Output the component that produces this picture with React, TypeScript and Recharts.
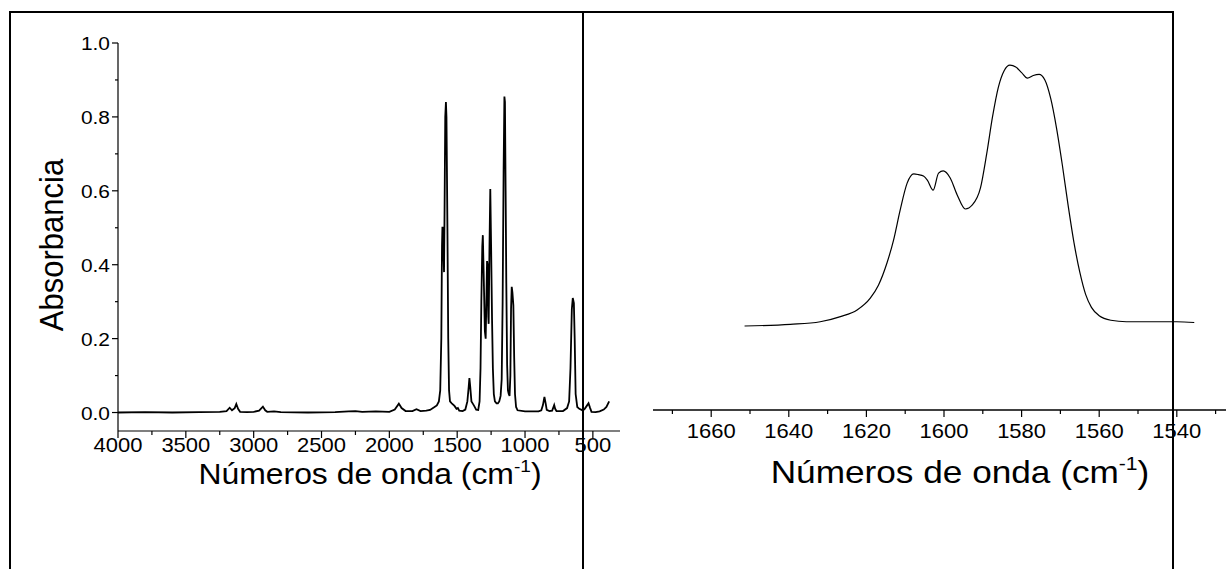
import React from "react";
import { Label, Line, LineChart, XAxis, YAxis } from "recharts";

const FONT = "'Liberation Sans', Arial, Helvetica, sans-serif";
// the original figure's lettering is slightly wider than Arial
const STRETCH = 1.1;

// full spectrum, 4000-370 cm-1
const overviewWavenumbers = [
  4000, 3800, 3600, 3400, 3250, 3200, 3177, 3160, 3140, 3128, 3115, 3100, 3050, 3000, 2960, 2932, 2915,
  2900, 2850, 2800, 2600, 2400, 2300, 2250, 2200, 2100, 2000, 1960, 1930, 1910, 1880, 1830, 1800, 1770,
  1728, 1700, 1670, 1650, 1635, 1625, 1617, 1612, 1609, 1605, 1600, 1597, 1593, 1588, 1583, 1579, 1572,
  1566, 1560, 1553, 1540, 1520, 1505, 1495, 1485, 1460, 1440, 1425, 1415, 1410, 1404, 1395, 1385, 1375,
  1360, 1345, 1335, 1328, 1322, 1315, 1311, 1305, 1296, 1290, 1285, 1280, 1276, 1271, 1268, 1262, 1256,
  1250, 1243, 1237, 1230, 1222, 1210, 1200, 1190, 1180, 1172, 1165, 1158, 1152, 1148, 1143, 1138, 1132,
  1126, 1120, 1114, 1108, 1103, 1098, 1093, 1086, 1080, 1074, 1066, 1055, 1000, 950, 900, 880, 868, 857,
  848, 840, 820, 800, 785, 778, 768, 720, 690, 675, 665, 655, 648, 640, 634, 627, 615, 600, 587, 575, 560,
  545, 532, 520, 510, 480, 450, 420, 400, 380,
];
const overviewAbsorbance = [
  0, 0.001, 0, 0.001, 0.002, 0.004, 0.013, 0.006, 0.012, 0.023, 0.01, 0.002, 0.001, 0.002, 0.005, 0.016,
  0.006, 0.002, 0.003, 0.001, 0, 0.001, 0.003, 0.004, 0.002, 0.003, 0.002, 0.008, 0.024, 0.012, 0.004,
  0.004, 0.009, 0.004, 0.005, 0.007, 0.014, 0.019, 0.03, 0.06, 0.2, 0.45, 0.5, 0.5, 0.42, 0.38, 0.55, 0.8,
  0.84, 0.8, 0.5, 0.2, 0.06, 0.03, 0.025, 0.018, 0.01, 0.012, 0.005, 0.004, 0.008, 0.03, 0.07, 0.093,
  0.07, 0.03, 0.024, 0.018, 0.008, 0.007, 0.03, 0.12, 0.3, 0.45, 0.48, 0.38, 0.22, 0.2, 0.3, 0.41, 0.4,
  0.26, 0.24, 0.45, 0.605, 0.45, 0.25, 0.12, 0.05, 0.03, 0.025, 0.025, 0.03, 0.045, 0.09, 0.3, 0.65,
  0.855, 0.84, 0.6, 0.35, 0.13, 0.06, 0.05, 0.045, 0.1, 0.28, 0.34, 0.325, 0.29, 0.15, 0.05, 0.015, 0.006,
  0.003, 0.003, 0.003, 0.006, 0.02, 0.042, 0.025, 0.007, 0.004, 0.005, 0.02, 0.01, 0.004, 0.004, 0.012,
  0.03, 0.12, 0.28, 0.31, 0.296, 0.2, 0.05, 0.015, 0.01, 0.008, 0.005, 0.01, 0.018, 0.025, 0.012, 0.002,
  0.001, 0.003, 0.008, 0.015, 0.03,
];

// expanded 1650-1535 cm-1 region (same vertical units as the left panel)
const zoomWavenumbers = [
  1651.4, 1639.6, 1631.9, 1626.7, 1622.4, 1619, 1616.9, 1614.7, 1613, 1611.3, 1609.5, 1607.8, 1606.6,
  1605.3, 1604.3, 1602.8, 1601.4, 1600.2, 1598.4, 1596.6, 1594.5, 1592.7, 1590.6, 1589, 1587.5, 1586,
  1584.5, 1583, 1581.5, 1580, 1578.5, 1577, 1575.5, 1574, 1572.5, 1571, 1569.5, 1568, 1566.5, 1565,
  1563.5, 1562, 1560, 1557, 1553, 1545, 1540, 1535.5,
];
const zoomAbsorbance = [
  0.2345, 0.239, 0.246, 0.26, 0.278, 0.31, 0.345, 0.405, 0.467, 0.548, 0.621, 0.646, 0.644, 0.64, 0.629,
  0.602, 0.648, 0.654, 0.635, 0.589, 0.551, 0.562, 0.608, 0.7, 0.8, 0.88, 0.925, 0.94, 0.935, 0.92,
  0.905, 0.912, 0.915, 0.9, 0.85, 0.77, 0.67, 0.56, 0.46, 0.38, 0.32, 0.285, 0.262, 0.25, 0.246, 0.246,
  0.246, 0.244,
];

const overviewTicks = [4000, 3750, 3500, 3250, 3000, 2750, 2500, 2250, 2000, 1750, 1500, 1250, 1000, 750, 500];
const zoomTicks = [1670, 1660, 1650, 1640, 1630, 1620, 1610, 1600, 1590, 1580, 1570, 1560, 1550, 1540, 1530];
const absorbanceTicks = [0, 0.1, 0.2, 0.3, 0.4, 0.5, 0.6, 0.7, 0.8, 0.9, 1.0];

const overviewData = overviewWavenumbers.map((w, i) => ({ w, a: overviewAbsorbance[i] }));
const zoomData = zoomWavenumbers.map((w, i) => ({ w, a: zoomAbsorbance[i] }));

const H = 569;

function XTick(props: any) {
  const { x, payload, axisY, every, labelDy, size } = props;
  const major = payload.value % every === 0;
  return (
    <g>
      <line x1={x} x2={x} y1={axisY} y2={axisY + (major ? 7 : 4)} stroke="#000" strokeWidth={1.2} />
      {major && (
        <text
          transform={`translate(${x},${axisY + labelDy}) scale(${STRETCH},1)`}
          textAnchor="middle"
          fontSize={size}
          fontFamily={FONT}
          fill="#000"
        >
          {payload.value}
        </text>
      )}
    </g>
  );
}

function YTick(props: any) {
  const { y, payload } = props;
  const v = payload.value;
  const major = Math.round(v * 10) % 2 === 0;
  const axisX = 118;
  return (
    <g>
      <line x1={axisX - (major ? 6 : 3)} x2={axisX} y1={y} y2={y} stroke="#000" strokeWidth={1.2} />
      {major && (
        <text
          transform={`translate(${axisX - 8},${y + 7}) scale(${STRETCH},1)`}
          textAnchor="end"
          fontSize={19}
          fontFamily={FONT}
          fill="#000"
        >
          {v.toFixed(1)}
        </text>
      )}
    </g>
  );
}

function AxisTitle({ cx, by, size }: { cx: number; by: number; size: number }) {
  return (
    <text
      transform={`translate(${cx},${by}) scale(${STRETCH},1)`}
      textAnchor="middle"
      fontSize={size}
      fontFamily={FONT}
      fill="#000"
    >
      Números de onda (cm
      <tspan dy={-size * 0.42} fontSize={size * 0.6}>-1</tspan>
      <tspan dy={size * 0.42}>)</tspan>
    </text>
  );
}

export default function App() {
  return (
    <div
      style={{
        position: "absolute",
        left: 0,
        top: 0,
        width: 1226,
        height: H,
        overflow: "hidden",
        background: "#fff",
      }}
    >
      {/* table frame */}
      <div style={{ position: "absolute", left: 9, top: 11, width: 1165, height: 2, background: "#000" }} />
      <div style={{ position: "absolute", left: 9, top: 11, width: 2, height: H, background: "#000" }} />
      <div style={{ position: "absolute", left: 582, top: 11, width: 2, height: H, background: "#000" }} />
      <div style={{ position: "absolute", left: 1172, top: 11, width: 2, height: H, background: "#000" }} />

      <div style={{ position: "absolute", left: 0, top: 0 }}>
        <LineChart width={640} height={H} data={overviewData} margin={{ top: 43, right: 20, left: 0, bottom: 108 }}>
          <XAxis
            type="number"
            dataKey="w"
            domain={[300, 4000]}
            reversed
            allowDataOverflow
            ticks={overviewTicks}
            interval={0}
            height={30}
            tickLine={false}
            axisLine={{ stroke: "#000", strokeWidth: 1.2 }}
            tick={<XTick axisY={431} every={500} labelDy={21} size={20} />}
          >
            <Label content={() => <AxisTitle cx={370} by={484} size={29} />} />
          </XAxis>
          <YAxis
            type="number"
            domain={[-0.05, 1.0]}
            allowDataOverflow
            ticks={absorbanceTicks}
            interval={0}
            width={118}
            tickLine={false}
            axisLine={{ stroke: "#000", strokeWidth: 1.2 }}
            tick={<YTick />}
          >
            <Label
              content={() => (
                <text
                  transform={`translate(63,245) scale(${STRETCH},1) rotate(-90)`}
                  textAnchor="middle"
                  fontSize={31}
                  fontFamily={FONT}
                  fill="#000"
                >
                  Absorbancia
                </text>
              )}
            />
          </YAxis>
          <Line type="linear" dataKey="a" stroke="#000" strokeWidth={1.8} dot={false} isAnimationActive={false} />
        </LineChart>
      </div>

      <div style={{ position: "absolute", left: 600, top: 0 }}>
        <LineChart width={640} height={H} data={zoomData} margin={{ top: 43, right: 5, left: 53, bottom: 129 }}>
          <XAxis
            type="number"
            dataKey="w"
            domain={[1525, 1675]}
            reversed
            allowDataOverflow
            ticks={zoomTicks}
            interval={0}
            height={30}
            tickLine={false}
            axisLine={{ stroke: "#000", strokeWidth: 1.6 }}
            tick={<XTick axisY={410} every={20} labelDy={28} size={20} />}
          >
            <Label content={() => <AxisTitle cx={360} by={483} size={32} />} />
          </XAxis>
          <YAxis hide type="number" domain={[0.0073, 1.0]} allowDataOverflow />
          <Line type="monotone" dataKey="a" stroke="#000" strokeWidth={1.2} dot={false} isAnimationActive={false} />
        </LineChart>
      </div>
    </div>
  );
}
